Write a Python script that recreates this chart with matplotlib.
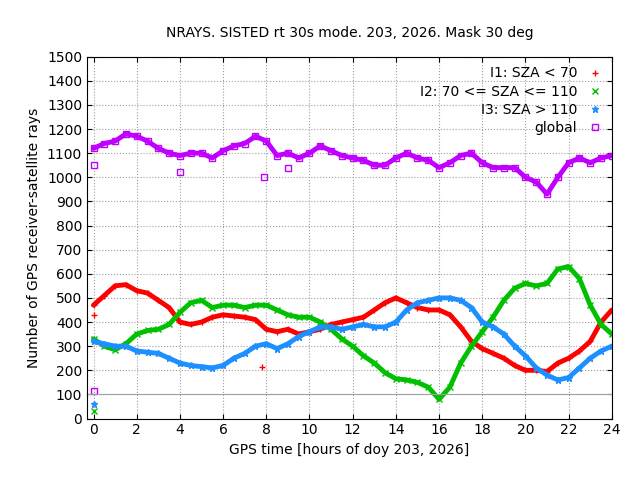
import numpy as np
import matplotlib
matplotlib.use("Agg")
import matplotlib.pyplot as plt

hours = np.arange(0, 24.01, 0.5)
i1 = [470, 510, 550, 555, 530, 520, 490, 460, 400, 390, 400, 420, 430, 425, 420, 410, 370, 360, 370, 350,
      360, 370, 390, 400, 410, 420, 450, 480, 500, 480, 460, 450, 450, 430, 380, 320, 290, 270, 250, 220,
      200, 200, 195, 230, 250, 280, 320, 400, 450]
i2 = [330, 300, 285, 310, 350, 365, 370, 390, 440, 480, 490, 460, 470, 470, 460, 470, 470, 450, 430, 420,
      420, 400, 370, 330, 300, 260, 230, 190, 165, 160, 150, 130, 80, 130, 230, 300, 360, 420, 490, 540,
      560, 550, 560, 620, 630, 580, 470, 390, 350]
i3 = [320, 310, 300, 300, 280, 275, 270, 250, 230, 220, 215, 210, 220, 250, 270, 300, 310, 290, 310, 340,
      360, 380, 380, 370, 380, 390, 380, 380, 400, 450, 480, 490, 500, 500, 490, 460, 400, 380, 350, 300,
      260, 210, 180, 160, 170, 210, 250, 280, 300]
glob = [1120, 1140, 1150, 1180, 1170, 1150, 1120, 1100, 1090, 1100, 1100, 1080, 1110, 1130, 1140, 1170,
        1150, 1090, 1100, 1080, 1100, 1130, 1110, 1090, 1080, 1070, 1050, 1050, 1080, 1100, 1080, 1070,
        1040, 1060, 1090, 1100, 1060, 1040, 1040, 1040, 1000, 980, 930, 1000, 1060, 1080, 1060, 1080, 1090]

# isolated outliers
i1_out_t, i1_out = [0.0, 7.8], [430, 215]
i2_out_t, i2_out = [0.0], [30]
i3_out_t, i3_out = [0.0], [60]
gl_out_t, gl_out = [0.0, 0.0, 4.0, 7.9, 9.0], [1050, 115, 1020, 1000, 1040]

fig, ax = plt.subplots(figsize=(6.4, 4.8), dpi=100)
fig.subplots_adjust(left=0.136, right=0.956, top=0.882, bottom=0.128)

series = [
    (i1, i1_out_t, i1_out, "#ff0000", "+", "I1: SZA < 70"),
    (i2, i2_out_t, i2_out, "#00c000", "x", "I2: 70 <= SZA <= 110"),
    (i3, i3_out_t, i3_out, "#1e8fff", "*", "I3: SZA > 110"),
    (glob, gl_out_t, gl_out, "#c000ff", "s", "global"),
]
for vals, ot, ov, c, m, lab in series:
    mfc = "none" if m == "s" else c
    ax.plot(hours, vals, color=c, lw=3.5, solid_capstyle="round")
    ax.plot(hours, vals, ls="none", marker=m, color=c, mfc=mfc, ms=5, label=lab)
    ax.plot(ot, ov, ls="none", marker=m, color=c, mfc=mfc, ms=5)

ax.axhline(100, color="#a0a0a0", lw=0.8)
ax.set_xlim(-0.3, 24)
ax.set_ylim(0, 1500)
ax.set_xticks(range(0, 25, 2))
ax.set_yticks(range(0, 1501, 100))
ax.grid(True, color="#a0a0a0", ls=":", lw=0.8)
ax.tick_params(direction="in", top=True, right=True, labelsize=10)
ax.set_xlabel("GPS time [hours of doy 203, 2026]")
ax.set_ylabel("Number of GPS receiver-satellite rays")
ax.set_title("NRAYS. SISTED rt 30s mode. 203, 2026. Mask 30 deg", fontsize=10, pad=14)

leg = ax.legend(loc="upper right", frameon=False, markerfirst=False, handlelength=1,
                fontsize=10, borderaxespad=0.3, labelspacing=0.3)
for t in leg.get_texts():
    t.set_ha("right")
fig.savefig("out.png")
